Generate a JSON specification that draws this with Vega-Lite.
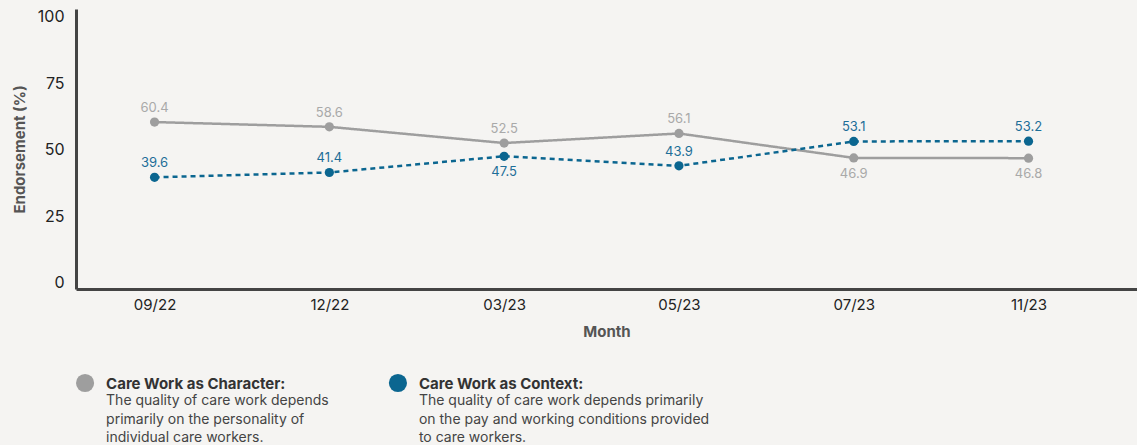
{
  "$schema": "https://vega.github.io/schema/vega-lite/v6.json",
  "background": "#f5f4f2",
  "padding": {"left": 12, "top": 8, "right": 0, "bottom": 0},
  "config": {"view": {"stroke": null}, "font": "Inter", "concat": {"spacing": 20}},
  "datasets": {
    "series": [
      {"month": "09/22", "series": "Care Work as Character", "value": 60.4},
      {"month": "12/22", "series": "Care Work as Character", "value": 58.6},
      {"month": "03/23", "series": "Care Work as Character", "value": 52.5},
      {"month": "05/23", "series": "Care Work as Character", "value": 56.1},
      {"month": "07/23", "series": "Care Work as Character", "value": 46.9},
      {"month": "11/23", "series": "Care Work as Character", "value": 46.8},
      {"month": "09/22", "series": "Care Work as Context", "value": 39.6},
      {"month": "12/22", "series": "Care Work as Context", "value": 41.4},
      {"month": "03/23", "series": "Care Work as Context", "value": 47.5},
      {"month": "05/23", "series": "Care Work as Context", "value": 43.9},
      {"month": "07/23", "series": "Care Work as Context", "value": 53.1},
      {"month": "11/23", "series": "Care Work as Context", "value": 53.2}
    ],
    "legend": [
      {"series": "Care Work as Character", "title": "Care Work as Character:", "desc": ["The quality of care work depends", "primarily on the personality of", "individual care workers."]},
      {"series": "Care Work as Context", "title": "Care Work as Context:", "desc": ["The quality of care work depends primarily", "on the pay and working conditions provided", "to care workers."]}
    ]
  },
  "vconcat": [
    {
      "width": 1061,
      "height": 280,
      "data": {"name": "series"},
      "transform": [
        {"joinaggregate": [{"op": "min", "field": "value", "as": "minv"}, {"op": "max", "field": "value", "as": "maxv"}], "groupby": ["month"]}
      ],
      "encoding": {
        "x": {
          "field": "month", "type": "ordinal",
          "scale": {"type": "point", "domain": ["09/22", "12/22", "03/23", "05/23", "07/23", "11/23"], "padding": 0.535, "align": 0.42},
          "axis": {"title": "Month", "labelAngle": 0, "ticks": false, "domainWidth": 3, "domainColor": "#444", "labelFontSize": 15, "labelColor": "#222", "labelPadding": 8, "titleFontSize": 15, "titleFontWeight": "bold", "titleColor": "#555", "titlePadding": 12}
        },
        "y": {
          "field": "value", "type": "quantitative",
          "scale": {"domain": [-2.5, 103], "nice": false, "zero": false},
          "axis": {"title": "Endorsement (%)", "values": [0, 25, 50, 75, 100], "ticks": false, "grid": false, "domainWidth": 3, "domainColor": "#444", "labelFontSize": 16, "labelColor": "#222", "labelPadding": 12, "titleFontSize": 15, "titleFontWeight": "bold", "titleColor": "#555", "titlePadding": 10}
        }
      },
      "layer": [
        {
          "mark": {"type": "line", "strokeWidth": 2.5},
          "encoding": {
            "color": {"field": "series", "type": "nominal", "scale": {"domain": ["Care Work as Character", "Care Work as Context"], "range": ["#9e9e9e", "#0b6690"]}, "legend": null},
            "strokeDash": {"field": "series", "type": "nominal", "scale": {"domain": ["Care Work as Character", "Care Work as Context"], "range": [[1, 0], [5, 4]]}, "legend": null}
          }
        },
        {
          "mark": {"type": "point", "filled": true, "opacity": 1, "size": 85},
          "encoding": {
            "color": {"field": "series", "type": "nominal", "scale": {"domain": ["Care Work as Character", "Care Work as Context"], "range": ["#9e9e9e", "#0b6690"]}, "legend": null}
          }
        },
        {
          "transform": [{"filter": "!(datum.value == datum.minv && datum.maxv - datum.minv < 10)"}],
          "mark": {"type": "text", "dy": -14, "fontSize": 13},
          "encoding": {
            "text": {"field": "value", "type": "quantitative", "format": ".1f"},
            "color": {"condition": {"test": "datum.series == 'Care Work as Character'", "value": "#a9a9a9"}, "value": "#1d6e98"}
          }
        },
        {
          "transform": [{"filter": "datum.value == datum.minv && datum.maxv - datum.minv < 10"}],
          "mark": {"type": "text", "dy": 16, "fontSize": 13},
          "encoding": {
            "text": {"field": "value", "type": "quantitative", "format": ".1f"},
            "color": {"condition": {"test": "datum.series == 'Care Work as Character'", "value": "#a9a9a9"}, "value": "#1d6e98"}
          }
        }
      ]
    },
    {
      "width": 331,
      "height": 48,
      "data": {"name": "legend"},
      "encoding": {
        "x": {"field": "series", "type": "nominal", "scale": {"type": "point", "padding": 0.029, "domain": ["Care Work as Character", "Care Work as Context"]}, "axis": null}
      },
      "layer": [
        {
          "mark": {"type": "point", "filled": true, "opacity": 1, "size": 330},
          "encoding": {
            "color": {"field": "series", "type": "nominal", "scale": {"domain": ["Care Work as Character", "Care Work as Context"], "range": ["#9e9e9e", "#0b6690"]}, "legend": null}
          }
        },
        {
          "mark": {"type": "text", "align": "left", "baseline": "middle", "dx": 21, "dy": 1, "fontSize": 15, "fontWeight": "bold", "color": "#333"},
          "encoding": {"text": {"field": "title", "type": "nominal"}}
        },
        {
          "mark": {"type": "text", "align": "left", "baseline": "top", "dx": 21, "dy": 11, "fontSize": 14, "lineHeight": 18.5, "color": "#444"},
          "encoding": {"text": {"field": "desc", "type": "nominal"}}
        }
      ]
    }
  ]
}
